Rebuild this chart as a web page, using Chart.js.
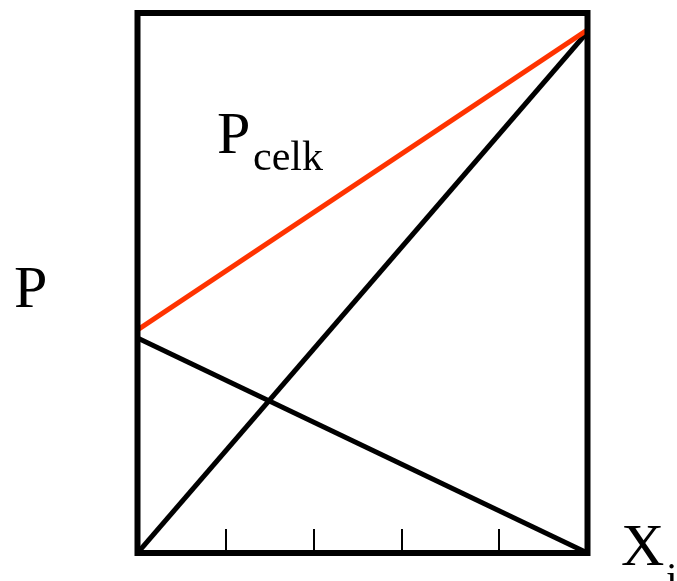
<!DOCTYPE html>
<html>
<head>
<meta charset="utf-8">
<script src="https://cdn.jsdelivr.net/npm/chart.js@4"></script>
<style>
  html, body { margin: 0; padding: 0; background: #fff; }
  #wrap { width: 677px; height: 581px; }
</style>
</head>
<body>
<div id="wrap"><canvas id="chart"></canvas></div>
<script>
// mole fraction at the two ends of the box
const xEnds = [0, 1];
// total pressure (red) and the two partial pressures
const pCelk = [0.413, 0.969];
const pRising = [0, 0.965];
const pFalling = [0.398, 0];
// small tick marks along the bottom edge
const tickXs = [0.197, 0.392, 0.587, 0.804];

const toPoints = ys => ys.map((y, i) => ({ x: xEnds[i], y }));

const frame = {
  id: 'frame',
  afterDatasetsDraw(chart) {
    const { ctx, chartArea: a, scales } = chart;
    ctx.save();
    ctx.strokeStyle = '#000';

    // tick marks, pointing up from the bottom edge
    ctx.lineWidth = 2;
    tickXs.forEach(v => {
      const px = Math.round(scales.x.getPixelForValue(v));
      ctx.beginPath();
      ctx.moveTo(px, a.bottom);
      ctx.lineTo(px, a.bottom - 24);
      ctx.stroke();
    });

    ctx.lineWidth = 6;
    ctx.strokeRect(a.left, a.top, a.right - a.left, a.bottom - a.top);

    // labels
    ctx.fillStyle = '#000';
    ctx.textBaseline = 'alphabetic';
    ctx.font = '60px "Liberation Serif"';
    ctx.fillText('P', 14, 307);
    ctx.fillText('P', 217, 153);
    ctx.fillText('X', 621, 565);
    ctx.font = '42px "Liberation Serif"';
    ctx.fillText('celk', 253, 170);
    ctx.fillText('i', 666, 592);
    ctx.restore();
  }
};

new Chart(document.getElementById('chart'), {
  type: 'scatter',
  data: {
    datasets: [
      { data: toPoints(pCelk), borderColor: '#ff3300', borderWidth: 5 },
      { data: toPoints(pRising), borderColor: '#000', borderWidth: 5 },
      { data: toPoints(pFalling), borderColor: '#000', borderWidth: 5 },
    ].map(d => ({ ...d, showLine: true, pointRadius: 0, fill: false }))
  },
  options: {
    responsive: true,
    maintainAspectRatio: false,
    animation: false,
    layout: { padding: { left: 137.5, right: 89.5, top: 13, bottom: 28 } },
    plugins: { legend: { display: false }, tooltip: { enabled: false } },
    scales: {
      x: { type: 'linear', min: 0, max: 1, display: false },
      y: { type: 'linear', min: 0, max: 1, display: false }
    }
  },
  plugins: [frame]
});
</script>
</body>
</html>
